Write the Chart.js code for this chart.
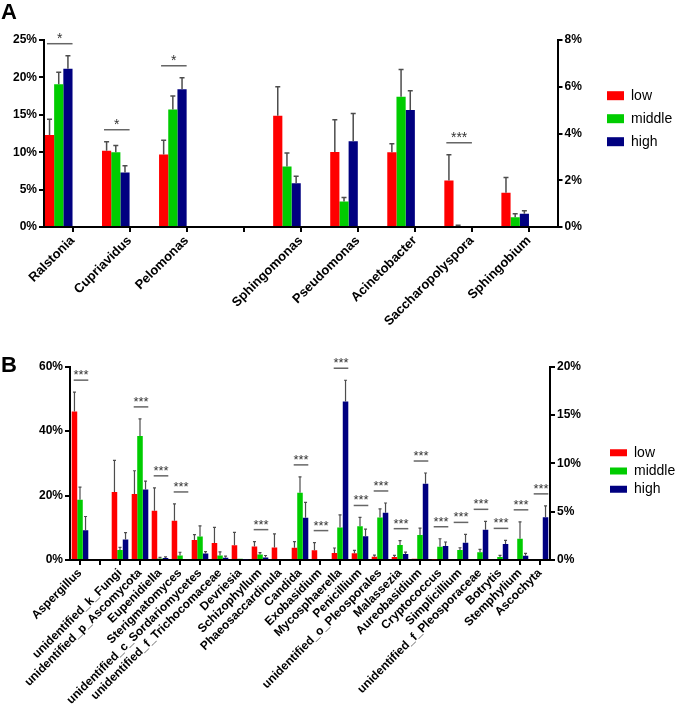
<!DOCTYPE html>
<html>
<head>
<meta charset="utf-8">
<script src="https://cdn.jsdelivr.net/npm/chart.js@4.4.1/dist/chart.umd.min.js"></script>
<style>
  html, body { margin: 0; padding: 0; background: #fff; }
  body { width: 675px; height: 724px; position: relative; overflow: hidden; font-family: "Liberation Sans", Arial, sans-serif; }
  .panel { position: absolute; left: 0; width: 675px; }
  #panelA { top: 0; height: 335px; }
  #panelB { top: 335px; height: 389px; }
  .letter { position: absolute; left: 1px; font-weight: bold; font-size: 22px; line-height: 22px; color: #000; }
</style>
</head>
<body>
<div class="panel" id="panelA"><canvas id="chartA"></canvas></div>
<div class="panel" id="panelB"><canvas id="chartB"></canvas></div>
<div class="letter" style="top:1px">A</div>
<div class="letter" style="top:354px">B</div>
<script>
const seriesNames = ["low", "middle", "high"];
const seriesColors = ["#ff0000", "#00cc00", "#000080"];

// panel A - bacteria (values in %)
const generaA = ["Ralstonia", "Cupriavidus", "Pelomonas", "", "Sphingomonas", "Pseudomonas", "Acinetobacter", "Saccharopolyspora", "Sphingobium"];
const sideA = ["left", "left", "left", "left", "right", "right", "right", "right", "right"];
const lowA = [12.3, 10.2, 9.7, null, 4.76, 3.21, 3.2, 1.99, 1.47];
const lowErrA = [2.1, 1.2, 1.9, null, 1.24, 1.38, 0.36, 1.1, 0.65];
const middleA = [19.1, 10.0, 15.7, null, 2.59, 1.09, 5.57, 0.04, 0.42];
const middleErrA = [1.6, 0.9, 1.8, null, 0.58, 0.17, 1.17, 0.03, 0.15];
const highA = [21.15, 7.3, 18.4, null, 1.87, 3.67, 5.01, 0, 0.57];
const highErrA = [1.75, 0.9, 1.55, null, 0.3, 1.19, 0.82, null, 0.13];
const sigA = ["*", "*", "*", "", "", "", "", "***", ""];
const leftTicksA = [0, 5, 10, 15, 20, 25];
const rightTicksA = [0, 2, 4, 6, 8];

// panel B - fungi (values in %)
const generaB = ["Aspergillus", "", "unidentified_k_Fungi", "unidentified_p_Ascomycota", "Eupenidiella", "Sterigmatomyces",
  "unidentified_c_Sordariomycetes", "unidentified_f_Trichocomaceae", "Devriesia", "Schizophyllum", "Phaeosaccardinula",
  "Candida", "Exobasidium", "Mycosphaerella", "Penicillium", "unidentified_o_Pleosporales", "Malassezia", "Aureobasidium",
  "Cryptococcus", "Simplicillium", "unidentified_f_Pleosporaceae", "Botrytis", "Stemphylium", "Ascochyta"];
const sideB = ["left", "left", "left", "left", "left", "left", "left", "left", "left", "left", "left", "left", "left",
  "right", "right", "right", "right", "right", "right", "right", "right", "right", "right", "right"];
const lowB = [46.1, null, 21.1, 20.5, 15.3, 12.2, 6.2, 5.3, 4.6, 4.2, 3.9, 3.8, 3.0, 0.72, 0.69, 0.34, 0.3, 0.14, 0.07, 0.1, 0, 0, 0, 0];
const lowErrB = [6.0, null, 9.8, 7.2, 7.1, 5.2, 1.7, 4.8, 4.0, 1.5, 4.2, 1.9, 2.4, 0.52, 0.31, 0.16, 0.18, null, null, null, null, null, null, null];
const middleB = [18.7, null, 3.1, 38.5, 0.5, 1.4, 7.3, 1.4, 0.4, 1.7, 0, 20.9, 0, 3.37, 3.5, 4.4, 1.55, 2.58, 1.37, 1.03, 0.79, 0.31, 2.2, 0];
const middleErrB = [3.9, null, 0.8, 5.3, 0.3, 1.0, 3.3, 1.1, null, 0.6, null, 4.9, null, 1.3, 0.9, 0.9, 0.45, 0.72, 0.83, 0.24, 0.31, 0.17, 1.75, null];
const highB = [9.2, null, 6.4, 21.9, 0.6, 0, 2.0, 0.7, 0.2, 0.8, 0, 13.1, 0, 16.4, 2.47, 4.9, 0.62, 7.9, 1.44, 1.79, 3.13, 1.65, 0.45, 4.43];
const highErrB = [4.3, null, 2.1, 2.6, 0.4, null, 0.6, 0.5, null, 0.6, null, 4.8, null, 2.2, 0.73, 1.0, 0.2, 1.1, 0.42, 0.86, 0.87, 0.38, 0.24, 1.17];
const sigB = ["***", "", "", "***", "***", "***", "", "", "", "***", "", "***", "***",
  "***", "***", "***", "***", "***", "***", "***", "***", "***", "***", "***"];
const leftTicksB = [0, 20, 40, 60];
const rightTicksB = [0, 5, 10, 15, 20];

Chart.defaults.font.family = "'Liberation Sans', Arial, sans-serif";
Chart.defaults.color = "#000";

// one dataset per series and per y axis, sharing a stack so they use the same slot
function buildDatasets(values, errors, side, pads) {
    const sets = [];
    ["left", "right"].forEach(axis => {
        seriesNames.forEach((name, s) => {
            sets.push({
                label: name,
                data: values[s].map((v, i) => side[i] === axis ? v : null),
                errors: errors[s].map((e, i) => side[i] === axis ? e : null),
                backgroundColor: seriesColors[s],
                borderWidth: 0,
                stack: name,
                yAxisID: axis === "left" ? "yLeft" : "yRight",
                inLegend: axis === "left"
            });
        });
    });
    // empty slots so the tick lands on the right edge of the group (panel A)
    for (let p = 0; p < pads; p++) {
        sets.push({ label: "", data: [], stack: "pad" + p, yAxisID: "yLeft", pad: true });
    }
    return sets;
}

function errorBars(lineWidth, cap) {
    return {
        id: "errorBars",
        afterDatasetsDraw(chart) {
            const ctx = chart.ctx;
            ctx.save();
            ctx.strokeStyle = "#4d4d4d";
            ctx.lineWidth = lineWidth;
            chart.data.datasets.forEach((ds, d) => {
                if (!ds.errors) return;
                const meta = chart.getDatasetMeta(d);
                const scale = chart.scales[ds.yAxisID];
                meta.data.forEach((bar, i) => {
                    const v = ds.data[i], e = ds.errors[i];
                    if (v == null || e == null) return;
                    const top = scale.getPixelForValue(v + e);
                    ctx.beginPath();
                    ctx.moveTo(bar.x, bar.y);
                    ctx.lineTo(bar.x, top);
                    ctx.moveTo(bar.x - cap, top);
                    ctx.lineTo(bar.x + cap, top);
                    ctx.stroke();
                });
            });
            ctx.restore();
        }
    };
}

function sigMarks(labels, fontSize) {
    return {
        id: "sigMarks",
        afterDatasetsDraw(chart) {
            const ctx = chart.ctx;
            const sets = chart.data.datasets
                .map((ds, d) => ({ ds, meta: chart.getDatasetMeta(d) }))
                .filter(g => !g.ds.pad);
            labels.forEach((mark, i) => {
                if (!mark) return;
                let left = Infinity, right = -Infinity, top = Infinity;
                sets.forEach(({ ds, meta }) => {
                    const bar = meta.data[i];
                    left = Math.min(left, bar.x - bar.width / 2);
                    right = Math.max(right, bar.x + bar.width / 2);
                    if (ds.data[i] == null) return;
                    const scale = chart.scales[ds.yAxisID];
                    top = Math.min(top, scale.getPixelForValue(ds.data[i] + (ds.errors[i] || 0)));
                });
                const y = top - 12;
                ctx.save();
                ctx.strokeStyle = "#666";
                ctx.lineWidth = 1.5;
                ctx.beginPath();
                ctx.moveTo(left + 2, y);
                ctx.lineTo(right, y);
                ctx.stroke();
                ctx.fillStyle = "#333";
                ctx.font = fontSize + "px 'Liberation Sans', Arial, sans-serif";
                ctx.textAlign = "center";
                ctx.textBaseline = "alphabetic";
                ctx.fillText(mark, (left + right) / 2 + 1, y - 1);
                ctx.restore();
            });
        }
    };
}

function yAxis(side, ticks, width) {
    return {
        position: side,
        min: ticks[0],
        max: ticks[ticks.length - 1],
        stacked: false,
        afterFit: scale => { scale.width = width; },
        border: { display: true, color: "#000", width: 2 },
        grid: { drawOnChartArea: false, tickLength: 5, color: "#000", lineWidth: 2 },
        ticks: {
            stepSize: ticks[1] - ticks[0],
            padding: 2,
            color: "#000",
            font: { size: 12, weight: "bold" },
            callback: v => v + "%"
        }
    };
}

function makePanel(canvasId, p) {
    return new Chart(document.getElementById(canvasId), {
        type: "bar",
        data: { labels: p.labels, datasets: p.datasets },
        options: {
            responsive: true,
            maintainAspectRatio: false,
            animation: false,
            categoryPercentage: p.catPct,
            barPercentage: 1,
            layout: { padding: { top: p.top, left: 0, right: 0, bottom: 0 } },
            scales: {
                x: {
                    stacked: true,
                    afterFit: scale => { scale.height = p.xHeight; },
                    border: { display: true, color: "#000", width: 2 },
                    grid: { offset: false, drawOnChartArea: false, tickLength: 5, color: "#000", lineWidth: 2 },
                    ticks: {
                        autoSkip: false,
                        maxRotation: 45,
                        minRotation: 45,
                        padding: 1,
                        color: "#000",
                        font: { size: p.labelSize, weight: "bold" }
                    }
                },
                yLeft: yAxis("left", p.leftTicks, p.leftWidth),
                yRight: yAxis("right", p.rightTicks, p.rightWidth)
            },
            plugins: {
                tooltip: { enabled: false },
                legend: {
                    position: "right",
                    align: "start",
                    fullSize: false,
                    maxWidth: p.legendWidth,
                    title: { display: true, text: "", font: { size: 10 }, padding: { top: p.legendTop, bottom: 0 } },
                    labels: {
                        boxWidth: 17,
                        boxHeight: p.boxHeight,
                        padding: p.legendGap,
                        color: "#000",
                        font: { size: 14 },
                        filter: (item, data) => data.datasets[item.datasetIndex].inLegend
                    }
                }
            }
        },
        plugins: [errorBars(p.errWidth, p.cap), sigMarks(p.sig, p.sigSize)]
    });
}

makePanel("chartA", {
    labels: generaA,
    datasets: buildDatasets([lowA, middleA, highA], [lowErrA, middleErrA, highErrA], sideA, 3),
    sig: sigA,
    leftTicks: leftTicksA,
    rightTicks: rightTicksA,
    catPct: 0.967,
    top: 40,
    xHeight: 108,
    leftWidth: 44,
    rightWidth: 40.5,
    legendWidth: 77,
    legendTop: 27.7,
    legendGap: 9,
    boxHeight: 9,
    labelSize: 13,
    errWidth: 1.5,
    cap: 2.5,
    sigSize: 14
});

makePanel("chartB", {
    labels: generaB,
    datasets: buildDatasets([lowB, middleB, highB], [lowErrB, middleErrB, highErrB], sideB, 0),
    sig: sigB,
    leftTicks: leftTicksB,
    rightTicks: rightTicksB,
    catPct: 0.83,
    top: 31.7,
    xHeight: 164,
    leftWidth: 70,
    rightWidth: 55.7,
    legendWidth: 69.3,
    legendTop: 62.7,
    legendGap: 4.3,
    boxHeight: 7,
    labelSize: 12,
    errWidth: 1.2,
    cap: 1.5,
    sigSize: 13
});
</script>
</body>
</html>
